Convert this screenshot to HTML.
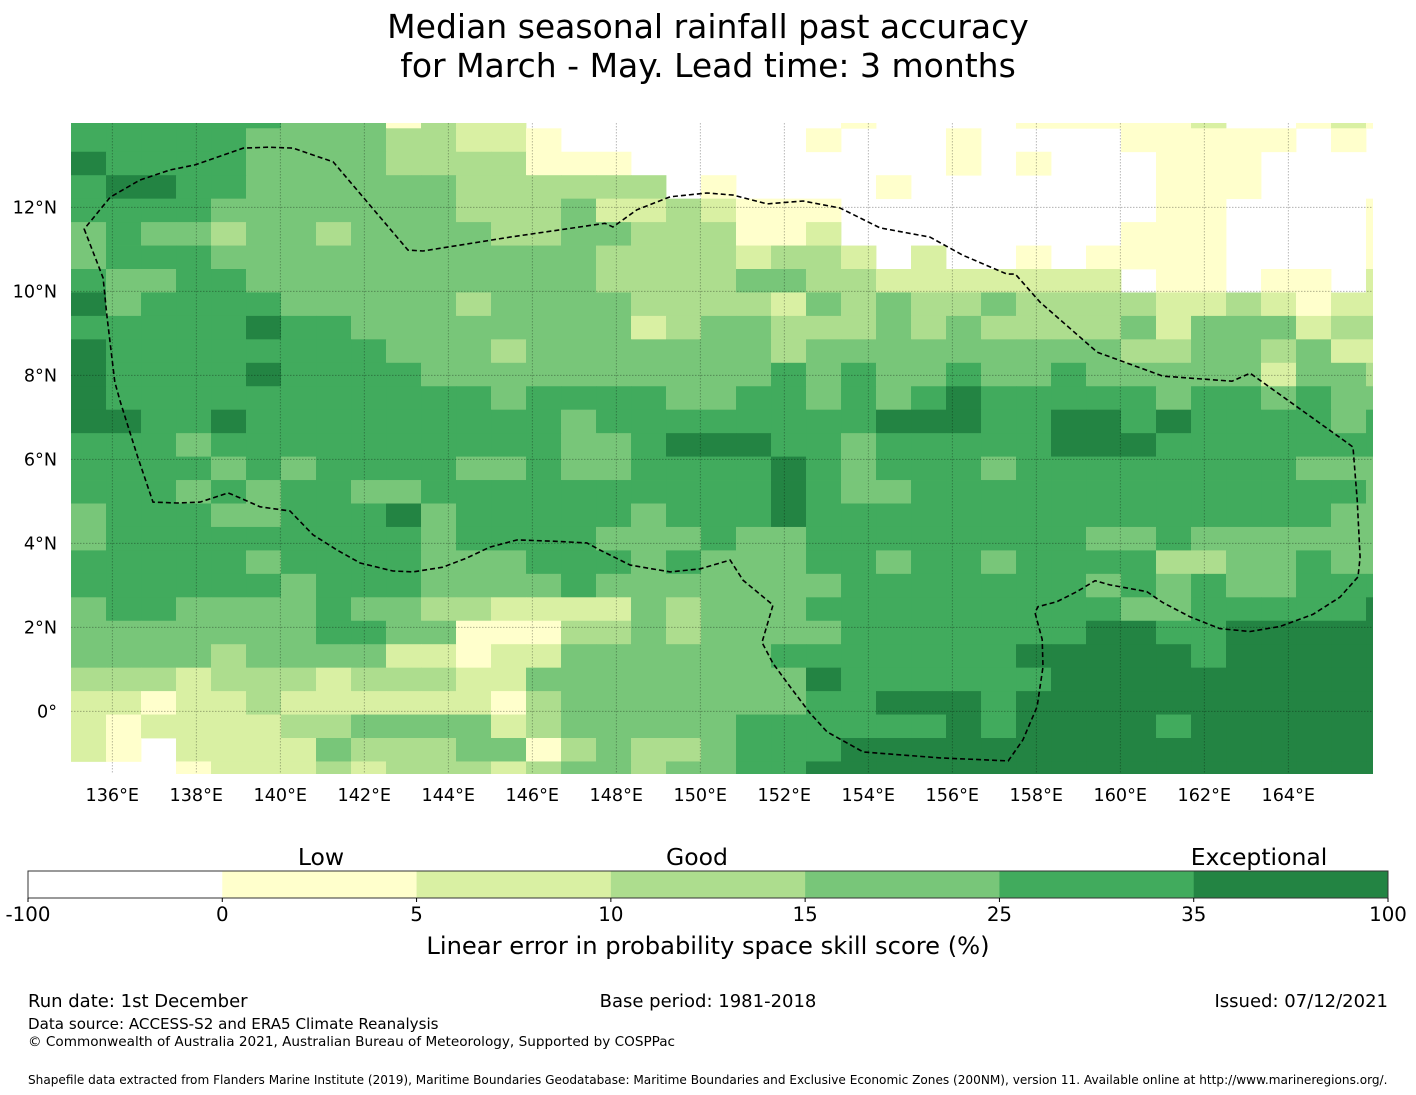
<!DOCTYPE html>
<html><head><meta charset="utf-8">
<style>
html,body{margin:0;padding:0;background:#fff;}
svg{display:block;font-family:"DejaVu Sans","Liberation Sans",sans-serif;}
</style></head>
<body>
<svg id="chart" width="1416" height="1095" viewBox="0 0 1416 1095" xmlns="http://www.w3.org/2000/svg">
<text x="708" y="38" font-size="33" text-anchor="middle">Median seasonal rainfall past accuracy</text>
<text x="708" y="77" font-size="33" text-anchor="middle">for March - May. Lead time: 3 months</text>
<defs><clipPath id="mapclip"><rect x="71" y="123" width="1302" height="651"/></clipPath></defs>
<g id="map" clip-path="url(#mapclip)"></g>
<g id="axes"></g>
<g id="cbar"></g>
<text x="321" y="865" font-size="23.5" text-anchor="middle">Low</text>
<text x="697" y="865" font-size="23.5" text-anchor="middle">Good</text>
<text x="1259" y="865" font-size="23.5" text-anchor="middle">Exceptional</text>
<text x="708" y="954" font-size="24.2" text-anchor="middle">Linear error in probability space skill score (%)</text>
<text x="28" y="1007" font-size="18">Run date: 1st December</text>
<text x="708" y="1007" font-size="18" text-anchor="middle">Base period: 1981-2018</text>
<text x="1388" y="1007" font-size="18" text-anchor="end">Issued: 07/12/2021</text>
<text x="28" y="1029" font-size="15.1">Data source: ACCESS-S2 and ERA5 Climate Reanalysis</text>
<text x="28" y="1046" font-size="13.6">© Commonwealth of Australia 2021, Australian Bureau of Meteorology, Supported by COSPPac</text>
<text x="28" y="1084" font-size="12.1">Shapefile data extracted from Flanders Marine Institute (2019), Maritime Boundaries Geodatabase: Maritime Boundaries and Exclusive Economic Zones (200NM), version 11. Available online at http://www.marineregions.org/.</text>
</svg>
<script>
// category codes: 0:<0, 1:0-5, 2:5-10, 3:10-15, 4:15-25, 5:25-35, 6:35-100
const gridRows = [
"5555554441322"+"000000000100"+"0011111200121",
"5555544443322"+"100000001000"+"1000011111010",
"6555544443333"+"111000000000"+"1010001110000",
"5665544444433"+"333301000010"+"0000001110000",
"5555444444433"+"342232111000"+"0000001100001",
"4544344344443"+"344333112000"+"0000011100001",
"4555444444444"+"443333233202"+"0010111100001",
"5445544444444"+"443333443322"+"2222201101102",
"6455554444434"+"444333324343"+"3433332232122",
"5555565544444"+"444234433343"+"4333342444233",
"6555555554443"+"444444434444"+"4444433443422",
"6555565555444"+"444444454544"+"5445444442443",
"6555555555554"+"555544554545"+"6555554554544",
"6655655555555"+"545555555566"+"6556656555545",
"5554555555555"+"544566655455"+"5556665555555",
"5555454555544"+"544555565455"+"5455555555444",
"5554545544555"+"555555565445"+"5555555555554",
"4555445556455"+"555455565555"+"5555555555544",
"4555555555455"+"554445445555"+"5555445444444",
"5555545555444"+"555454445545"+"5455553344544",
"5555554555444"+"454444444555"+"5555454544555",
"4554444544332"+"222434445555"+"5555544555556",
"4444444554411"+"133434444555"+"5555665566666",
"4444344442212"+"244444455555"+"5566666566666",
"3332333233322"+"444444446555"+"5556666666666",
"2212232222221"+"344444445566"+"6566666666666",
"2122223344442"+"344444555555"+"6566665666666",
"2102222433344"+"134334555666"+"6666666666666",
"0001222323332"+"344344556666"+"6666666666666"
];
const catColors = ["#ffffff","#ffffcc","#d9f0a3","#addd8e","#78c679","#41ab5d","#238443"];
const cbarTicks = ["-100","0","5","10","15","25","35","100"];
const lonTicks = [136,138,140,142,144,146,148,150,152,154,156,158,160,162,164];
const latTicks = [0,2,4,6,8,10,12];
const eezBoundary = [
[135.33,11.48],[135.78,10.32],[135.87,9.44],[136.06,7.84],[136.19,7.37],[136.59,6.10],[136.97,4.98],[137.54,4.96],[138.09,4.98],[138.76,5.20],[139.04,5.08],[139.52,4.87],[140.23,4.77],[140.78,4.20],[141.35,3.84],[141.90,3.53],[142.68,3.34],[143.16,3.32],[143.87,3.43],[144.44,3.65],[144.99,3.91],[145.64,4.08],[146.49,4.05],[147.30,4.01],[147.61,3.84],[148.33,3.48],[149.28,3.32],[149.99,3.39],[150.71,3.60],[151.02,3.12],[151.73,2.53],[151.47,1.64],[151.73,1.14],[152.14,0.58],[152.61,-0.04],[153.02,-0.49],[153.88,-0.97],[155.71,-1.11],[157.33,-1.18],[157.68,-0.68],[158.02,0.11],[158.16,1.06],[158.14,1.71],[157.97,2.35],[158.04,2.49],[158.49,2.61],[158.97,2.85],[159.40,3.11],[159.75,3.01],[160.63,2.85],[161.01,2.59],[161.66,2.25],[162.37,1.97],[163.09,1.90],[163.80,2.02],[164.59,2.31],[165.23,2.72],[165.66,3.20],[165.71,3.67],[165.64,5.03],[165.54,6.29],[165.31,6.46],[163.09,8.05],[162.66,7.86],[161.01,7.98],[159.45,8.55],[158.09,9.74],[157.50,10.41],[157.30,10.41],[156.25,10.86],[155.47,11.29],[154.28,11.51],[153.33,11.98],[152.45,12.15],[151.59,12.08],[150.78,12.29],[150.16,12.34],[149.28,12.25],[148.49,11.94],[147.92,11.53],[147.73,11.62],[145.47,11.29],[143.40,10.96],[143.04,10.98],[141.26,13.08],[140.30,13.41],[139.71,13.43],[139.12,13.41],[137.97,13.01],[137.38,12.89],[136.66,12.65],[135.95,12.24]
];

const NS="http://www.w3.org/2000/svg";
function mk(tag, attrs, parent){const e=document.createElementNS(NS,tag);for(const k in attrs)e.setAttribute(k,attrs[k]);parent.appendChild(e);return e;}
const PX_PER_DEG=42;
function xLon(lon){return 112.3+(lon-136)*PX_PER_DEG;}
function yLat(lat){return 207.3-(lat-12)*PX_PER_DEG;}
const GRID_LON0=135.017, GRID_DLON=35/42, GRID_LAT_TOP=13.881, GRID_DLAT=23.45/42;
function colX(c){return xLon(GRID_LON0+c*GRID_DLON);}
function rowY(r){return r===0?123:yLat(GRID_LAT_TOP-(r-1)*GRID_DLAT);}

const map=document.getElementById('map');
gridRows.forEach((row,r)=>{
  for(let c=0;c<row.length;c++){
    const v=+row[c];
    if(v===0) continue;
    const x0=colX(c), x1=colX(c+1), y0=rowY(r), y1=rowY(r+1);
    const rc=mk('rect',{x:x0.toFixed(2),y:y0.toFixed(2),width:(x1-x0+0.4).toFixed(2),height:(y1-y0+0.4).toFixed(2),fill:catColors[v]},map);
    
    
  }
});
lonTicks.forEach(l=>{
  const g=mk('line',{x1:xLon(l),x2:xLon(l),y1:123,y2:774,stroke:'#000','stroke-opacity':0.35,'stroke-width':0.8,'stroke-dasharray':'1.5,1.5'},map);
  
  
});
latTicks.forEach(l=>{
  const g=mk('line',{x1:71,x2:1373,y1:yLat(l),y2:yLat(l),stroke:'#000','stroke-opacity':0.35,'stroke-width':0.8,'stroke-dasharray':'1.5,1.5'},map);
  
  
});
const pts=eezBoundary.map(p=>xLon(p[0]).toFixed(1)+','+yLat(p[1]).toFixed(1)).join(' ');
const eez=mk('polygon',{points:pts,fill:'none',stroke:'#000','stroke-width':1.6,'stroke-dasharray':'5,3'},map);



const axes=document.getElementById('axes');
lonTicks.forEach(l=>{
  const t=mk('text',{x:xLon(l),y:801,'font-size':17.6,'text-anchor':'middle'},axes);
  t.textContent=l+'°E';
  
  
});
latTicks.forEach(l=>{
  const t=mk('text',{x:57,y:yLat(l)+6,'font-size':17.6,'text-anchor':'end'},axes);
  t.textContent=l===0?'0°':l+'°N';
  
  
});

const cb=document.getElementById('cbar');
const CB_X0=28, CB_X1=1388, CB_Y=871, CB_H=27;
const segW=(CB_X1-CB_X0)/catColors.length;
catColors.forEach((col,i)=>{
  const r=mk('rect',{x:CB_X0+i*segW,y:CB_Y,width:segW+0.3,height:CB_H,fill:col},cb);
  
  
});
const border=mk('rect',{x:CB_X0,y:CB_Y,width:CB_X1-CB_X0,height:CB_H,fill:'none',stroke:'#333','stroke-width':1},cb);


cbarTicks.forEach((lab,i)=>{
  const x=CB_X0+i*segW;
  const tk=mk('line',{x1:x,x2:x,y1:CB_Y+CB_H,y2:CB_Y+CB_H+4,stroke:'#000','stroke-width':1},cb);
  
  
  const t=mk('text',{x:x,y:921,'font-size':19.8,'text-anchor':'middle'},cb);
  t.textContent=lab;
  
  
});
</script>
</body></html>
